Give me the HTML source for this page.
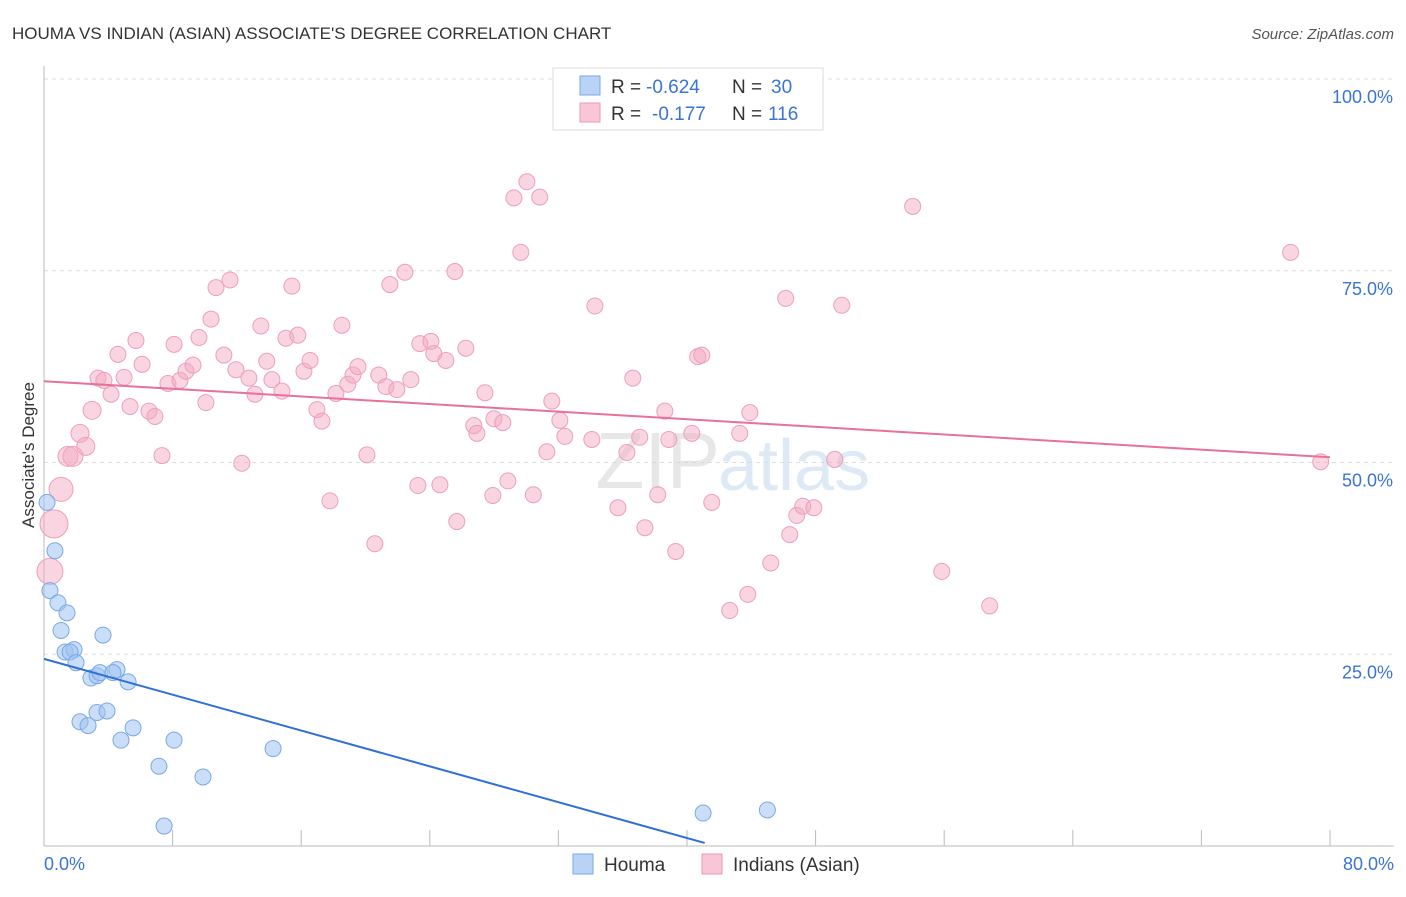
<!DOCTYPE html>
<html><head><meta charset="utf-8"><style>
body{margin:0;background:#fff;font-family:"Liberation Sans",sans-serif;}
svg text{font-family:"Liberation Sans",sans-serif;}
</style></head><body>
<svg id="chart" width="1406" height="892" viewBox="0 0 1406 892">
<text x="12" y="39" font-size="17" fill="#333">HOUMA VS INDIAN (ASIAN) ASSOCIATE'S DEGREE CORRELATION CHART</text>
<text x="1394" y="39" font-size="15" fill="#555" text-anchor="end" font-style="italic">Source: ZipAtlas.com</text>
<g id="grid"></g>
<g id="axes"></g>
<text x="720" y="488" font-size="80" fill="#d8d8d8" text-anchor="end" font-family="Liberation Serif" opacity="0.6">ZIP</text>
<text x="718" y="490" font-size="72" fill="#c8dcf0" opacity="0.6">atlas</text>
<g id="pts"></g>
<g id="lines"></g>
<text transform="translate(34,455) rotate(-90)" font-size="17" fill="#333" text-anchor="middle">Associate's Degree</text>
<g>
<rect x="553" y="68" width="270" height="62" fill="#fff" stroke="#ddd"/>
<rect x="580" y="76" width="20" height="19" fill="#b8d3f5" stroke="#7aa8e6"/>
<rect x="580" y="103" width="20" height="19" fill="#f8c6d6" stroke="#ec98b4"/>
<text x="611" y="93" font-size="19" fill="#333">R =</text>
<text x="646" y="93" font-size="19" fill="#3a74d4">-0.624</text>
<text x="732" y="93" font-size="19" fill="#333">N =</text>
<text x="771" y="93" font-size="19" fill="#3a74d4">30</text>
<text x="611" y="120" font-size="19" fill="#333">R =</text>
<text x="652" y="120" font-size="19" fill="#3a74d4">-0.177</text>
<text x="732" y="120" font-size="19" fill="#333">N =</text>
<text x="768" y="120" font-size="19" fill="#3a74d4">116</text>
</g>
<g>
<rect x="573" y="854" width="20" height="20" fill="#b8d3f5" stroke="#7aa8e6"/>
<text x="604" y="871" font-size="19" fill="#333">Houma</text>
<rect x="702" y="854" width="20" height="20" fill="#f8c6d6" stroke="#ec98b4"/>
<text x="733" y="871" font-size="19" fill="#333">Indians (Asian)</text>
</g>
</svg>
<script>
const yTicks=[25,50,75,100];
const yTickLabels=["25.0%","50.0%","75.0%","100.0%"];
const xTickCount=10;
const xEndLabels=["0.0%","80.0%"];
const houmaX=[0.19,0.68,0.37,0.87,1.43,1.06,3.67,1.31,1.87,1.62,1.99,2.92,3.30,3.48,4.54,4.29,5.23,2.24,2.74,3.30,3.92,4.79,5.54,8.09,7.15,9.89,14.25,7.47,41.0,45.0];
const houmaY=[44.8,38.5,33.3,31.7,30.4,28.1,27.5,25.3,25.6,25.3,23.9,21.9,22.2,22.6,23.0,22.6,21.4,16.2,15.7,17.4,17.6,13.8,15.4,13.8,10.4,9.0,12.7,2.6,4.3,4.7];
const indX=[0.62,0.37,1.06,1.49,1.8,2.24,2.6,2.99,3.36,3.73,4.17,4.6,4.98,5.35,5.72,6.1,6.53,6.9,7.34,7.71,8.09,8.46,8.83,9.27,9.64,10.07,10.39,10.7,11.19,11.57,11.94,12.31,12.75,13.12,13.49,13.86,14.18,14.8,15.05,15.42,15.79,16.17,16.55,16.98,17.29,17.79,18.16,18.53,18.9,19.22,19.53,20.09,20.58,20.83,21.27,21.52,21.95,22.45,22.82,23.26,23.38,24.07,24.25,24.63,25.0,25.56,25.68,26.24,26.74,26.93,27.43,27.92,27.99,28.54,28.86,29.23,29.66,30.04,30.44,30.84,31.28,31.59,32.09,32.4,34.08,34.27,35.7,36.26,36.63,37.06,37.38,38.18,38.62,38.87,39.3,40.3,40.67,40.92,41.54,42.66,43.28,43.78,43.91,45.21,46.14,46.39,46.83,47.2,47.89,49.19,49.63,54.04,55.85,58.83,77.55,79.42];
const indY=[42.0,35.8,46.5,50.8,50.8,53.8,52.1,56.8,61.0,60.7,58.9,64.1,61.1,57.3,65.9,62.8,56.7,56.0,50.9,60.3,65.4,60.7,61.9,62.7,66.3,57.8,68.7,72.8,64.0,73.8,62.1,49.9,61.0,58.9,67.8,63.2,60.8,59.3,66.2,73.0,66.6,61.9,63.3,56.9,55.4,45.0,59.0,67.9,60.2,61.4,62.5,51.0,39.4,61.4,59.9,73.2,59.5,74.8,60.8,47.0,65.5,65.8,64.2,47.1,63.3,74.9,42.3,64.9,54.8,53.8,59.1,45.7,55.7,55.2,47.6,84.5,77.4,86.6,45.8,84.6,51.4,58.0,55.5,53.4,53.0,70.4,44.1,51.3,61.0,53.3,41.5,45.8,56.7,53.0,38.4,53.8,63.8,64.0,44.8,30.7,53.8,32.8,56.5,36.9,71.4,40.6,43.1,44.3,44.1,50.4,70.5,83.4,35.8,31.3,77.4,50.1];
const indR=[14,13,12,10,10,9,9,9,8,8,8,8,8,8,8,8,8,8,8,8,8,8,8,8,8,8,8,8,8,8,8,8,8,8,8,8,8,8,8,8,8,8,8,8,8,8,8,8,8,8,8,8,8,8,8,8,8,8,8,8,8,8,8,8,8,8,8,8,8,8,8,8,8,8,8,8,8,8,8,8,8,8,8,8,8,8,8,8,8,8,8,8,8,8,8,8,8,8,8,8,8,8,8,8,8,8,8,8,8,8,8,8,8,8,8,8];
const houmaFit=[24.4,-0.584,0,41.1];
const indFit=[60.6,-0.124,0,80];
const NS="http://www.w3.org/2000/svg";
const X0=44,X1=1330,Y0=846,Y100=79;
const xs=v=>X0+(X1-X0)*v/80, ys=v=>Y0-(Y0-Y100)*v/100;
function mk(tag,attrs,parent){const e=document.createElementNS(NS,tag);for(const k in attrs)e.setAttribute(k,attrs[k]);document.getElementById(parent).appendChild(e);return e;}
const g1=mk('line',{x1:X0,x2:1394,y1:ys(100),y2:ys(100),stroke:'#ddd','stroke-dasharray':'4,4'},'grid');


yTicks.forEach((t,i)=>{
 if(t<100){const l=mk('line',{x1:X0,x2:1394,y1:ys(t),y2:ys(t),stroke:'#ddd','stroke-dasharray':'4,4'},'grid');
 
 }
 const tx=mk('text',{x:1393,y:ys(t)+24,'font-size':18,fill:'#3a74d4','text-anchor':'end'},'axes');
 tx.textContent=yTickLabels[i];
 
 
});
const ax=mk('line',{x1:X0,x2:X0,y1:66,y2:Y0,stroke:'#bbb'},'axes');


const bx=mk('line',{x1:X0,x2:1394,y1:Y0,y2:Y0,stroke:'#bbb'},'axes');


for(let i=0;i<=xTickCount;i++){const x=xs(i*80/xTickCount);
 const t=mk('line',{x1:x,x2:x,y1:830,y2:Y0,stroke:'#bbb'},'axes');
 
 }
[[0,'start',44],[80,'end',1394]].forEach((d,i)=>{const t=mk('text',{x:d[2],y:870,'font-size':18,fill:'#3a74d4','text-anchor':d[1]},'axes');
 t.textContent=xEndLabels[i];
 
 });
indX.forEach((v,i)=>{const c=mk('circle',{cx:xs(v),cy:ys(indY[i]),r:indR[i],fill:'rgba(244,170,195,0.5)',stroke:'#eda0ba','stroke-width':1},'pts');
 
 });
houmaX.forEach((v,i)=>{const c=mk('circle',{cx:xs(v),cy:ys(houmaY[i]),r:8,fill:'rgba(160,195,240,0.55)',stroke:'#7aa8e6','stroke-width':1},'pts');
 
 });
[[houmaFit,'#2f6fd6','houma-trend-line'],[indFit,'#e8709a','indians-trend-line']].forEach(f=>{const p=f[0];
 const l=mk('line',{x1:xs(p[2]),y1:ys(p[0]+p[1]*p[2]),x2:xs(p[3]),y2:ys(p[0]+p[1]*p[3]),stroke:f[1],'stroke-width':2},'lines');
 
 });
</script>
</body></html>
